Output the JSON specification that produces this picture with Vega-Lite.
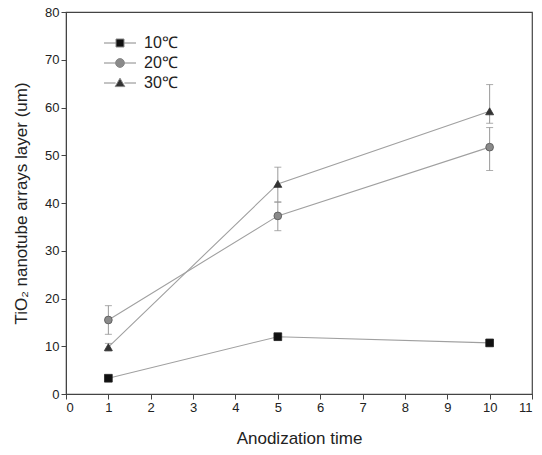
{
  "$schema": "https://vega.github.io/schema/vega-lite/v6.json",
  "autosize": "none",
  "padding": {"left": 66, "top": 12, "right": 10, "bottom": 61},
  "width": 466,
  "height": 382,
  "background": "white",
  "config": {
    "font": "Liberation Sans",
    "view": {"stroke": "#444", "strokeWidth": 1.2},
    "axis": {"domainColor": "#444", "tickColor": "#444", "labelColor": "#222", "titleColor": "#222", "grid": false, "labelFontSize": 13, "titleFontSize": 17, "titleFontWeight": "normal", "tickSize": 5, "labelFont": "Liberation Sans", "titleFont": "Liberation Sans"},
    "legend": {"labelFont": "Liberation Sans"}
  },
  "data": {"values": [
    {"t": 1, "series": "10℃", "v": 3.3, "lo": 2.8, "hi": 3.8},
    {"t": 5, "series": "10℃", "v": 12.0, "lo": 11.3, "hi": 12.7},
    {"t": 10, "series": "10℃", "v": 10.7, "lo": 10.0, "hi": 11.4},
    {"t": 1, "series": "20℃", "v": 15.5, "lo": 12.5, "hi": 18.5},
    {"t": 5, "series": "20℃", "v": 37.3, "lo": 34.2, "hi": 40.2},
    {"t": 10, "series": "20℃", "v": 51.7, "lo": 46.8, "hi": 55.8},
    {"t": 1, "series": "30℃", "v": 9.8, "lo": 9.0, "hi": 10.6},
    {"t": 5, "series": "30℃", "v": 44.0, "lo": 40.2, "hi": 47.5},
    {"t": 10, "series": "30℃", "v": 59.2, "lo": 56.7, "hi": 64.8}
  ]},
  "layer": [
    {
      "mark": {"type": "line", "color": "#a0a0a0", "strokeWidth": 1.1},
      "encoding": {
        "x": {"field": "t", "type": "quantitative", "title": "Anodization time", "scale": {"domain": [0, 11], "nice": false}, "axis": {"values": [0,1,2,3,4,5,6,7,8,9,10,11], "titlePadding": 16}},
        "y": {"field": "v", "type": "quantitative", "title": "TiO₂ nanotube arrays layer (um)", "scale": {"domain": [0, 80], "nice": false}, "axis": {"values": [0,10,20,30,40,50,60,70,80], "titlePadding": 14}},
        "detail": {"field": "series"}
      }
    },
    {
      "mark": {"type": "errorbar", "ticks": {"size": 7, "color": "#888"}, "rule": {"color": "#999"}},
      "encoding": {
        "x": {"field": "t", "type": "quantitative", "title": "Anodization time"},
        "y": {"field": "lo", "type": "quantitative", "title": "TiO₂ nanotube arrays layer (um)"},
        "y2": {"field": "hi"},
        "detail": {"field": "series"}
      }
    },
    {
      "transform": [{"filter": "datum.series === '10℃'"}],
      "mark": {"type": "point", "shape": "square", "filled": true, "opacity": 1, "size": 60, "color": "#111", "stroke": "#222", "strokeWidth": 0.8},
      "encoding": {
        "x": {"field": "t", "type": "quantitative", "title": "Anodization time"},
        "y": {"field": "v", "type": "quantitative", "title": "TiO₂ nanotube arrays layer (um)"}
      }
    },
    {
      "transform": [{"filter": "datum.series === '20℃'"}],
      "mark": {"type": "point", "shape": "circle", "filled": true, "opacity": 1, "size": 60, "color": "#8a8a8a", "stroke": "#555", "strokeWidth": 0.8},
      "encoding": {
        "x": {"field": "t", "type": "quantitative", "title": "Anodization time"},
        "y": {"field": "v", "type": "quantitative", "title": "TiO₂ nanotube arrays layer (um)"}
      }
    },
    {
      "transform": [{"filter": "datum.series === '30℃'"}],
      "mark": {"type": "point", "shape": "triangle-up", "filled": true, "opacity": 1, "size": 64, "color": "#333", "stroke": "#333", "strokeWidth": 0.8},
      "encoding": {
        "x": {"field": "t", "type": "quantitative", "title": "Anodization time"},
        "y": {"field": "v", "type": "quantitative", "title": "TiO₂ nanotube arrays layer (um)"}
      }
    },
    {
      "transform": [{"filter": "false"}],
      "mark": {"type": "point", "opacity": 1, "strokeWidth": 1},
      "encoding": {
        "x": {"field": "t", "type": "quantitative", "title": "Anodization time"},
        "y": {"field": "v", "type": "quantitative", "title": "TiO₂ nanotube arrays layer (um)"},
        "shape": {"field": "series", "type": "nominal", "title": null, "scale": {"domain": ["10℃", "20℃", "30℃"], "range": ["M-4,0H-1M1,0H4M-1,-1H1V1H-1Z", "M-4,0H-1.1M1.1,0H4M-1.1,0A1.1,1.1 0 1,0 1.1,0A1.1,1.1 0 1,0 -1.1,0Z", "M-4,0H-1.1M1.1,0H4M0,-1.2L1.2,0.9H-1.2Z"]},
          "legend": {
            "orient": "none", "legendX": 46, "legendY": 23,
            "labelFontSize": 16, "labelColor": "#222", "symbolSize": 64, "rowPadding": 4, "labelOffset": 16,
            "symbolStrokeWidth": 1, "symbolOpacity": 1
          }
        },
        "fill": {"field": "series", "type": "nominal", "title": null, "scale": {"domain": ["10℃", "20℃", "30℃"], "range": ["#111", "#8a8a8a", "#333"]}},
        "stroke": {"field": "series", "type": "nominal", "title": null, "scale": {"domain": ["10℃", "20℃", "30℃"], "range": ["#888", "#888", "#888"]}}
      }
    }
  ]
}
